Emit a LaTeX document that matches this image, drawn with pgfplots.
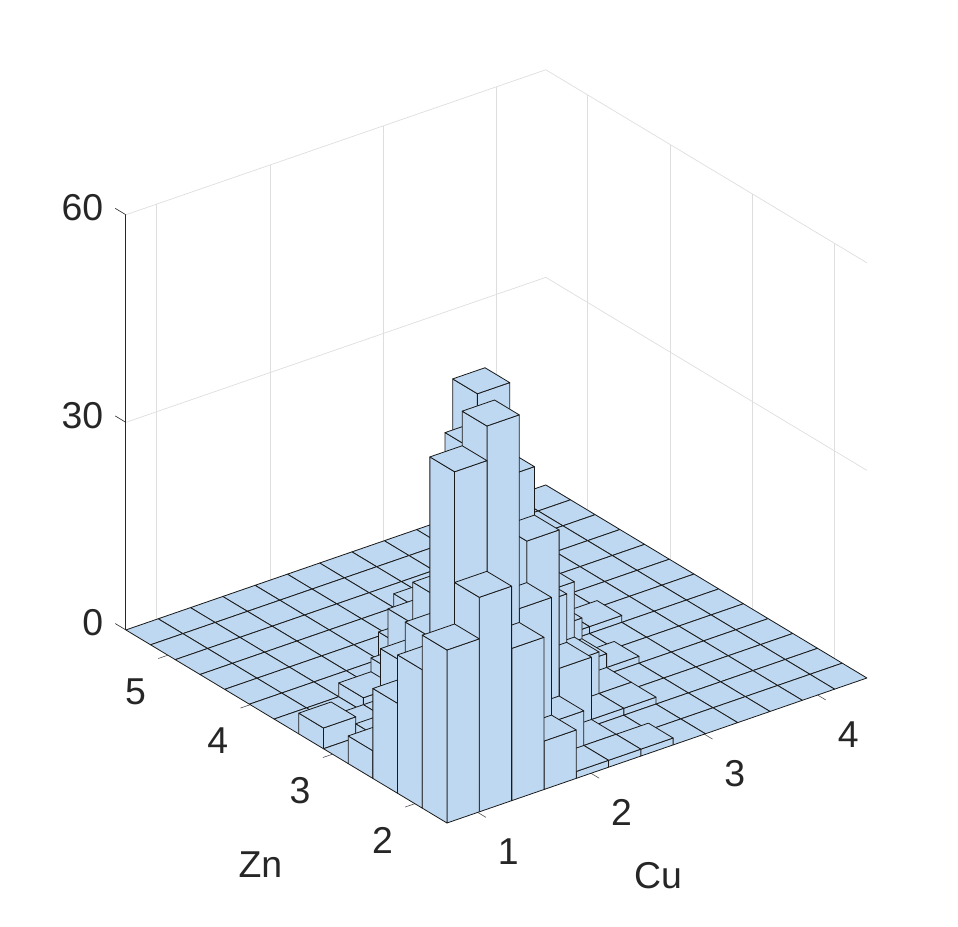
\documentclass[border=0pt]{standalone}
\usepackage{fontspec}
\setmainfont{Liberation Sans}
\usepackage{pgfplots}
\usepackage{pgfplotstable}
\pgfplotsset{compat=1.18}
\definecolor{barfill}{HTML}{BED8F1}
\definecolor{baredge}{HTML}{1A1A1A}
\definecolor{labelc}{HTML}{262626}
\definecolor{gridc}{HTML}{DEDEDE}

% counts per bin: rows are Zn bins, columns are Cu bins
\pgfplotstableread{
c1 c2 c3 c4 c5 c6 c7 c8 c9 c10 c11 c12 c13
25 31 22 7 1 1 1 0 0 0 0 0 0
20 47 52 24 6 1 0 0 0 0 0 0 0
13 21 40 22 30 10 1 1 0 0 0 0 0
4 15 23 43 37 17 7 1 0 0 0 0 0
0 2 17 15 47 22 15 3 1 0 0 0 0
3 1 1 4 15 15 10 6 0 0 0 0 0
0 0 2 4 5 6 6 3 1 1 0 0 0
0 0 0 0 4 3 3 2 0 0 0 0 0
0 0 0 0 0 0 1 0 0 0 0 0 0
0 0 0 0 0 0 2 0 0 0 0 0 0
0 0 0 0 0 0 0 0 0 0 0 0 0
0 0 0 0 0 0 0 0 0 0 0 0 0
0 0 0 0 0 0 0 0 0 0 0 0 0
}\binH

\def\cuzero{0.729}
\def\cubin{0.2851}
\def\znzero{1.61}
\def\znbin{0.3}

\begin{document}
\begin{tikzpicture}
\begin{axis}[
    x={(56.65pt,19.56pt)},
    y={(-41.17pt,24.75pt)},
    z={(0pt,3.46pt)},
    xmin=0.729, xmax=4.4353,
    ymin=1.61, ymax=5.51,
    zmin=0, zmax=60,
    xtick={1,2,3,4},
    ytick={2,3,4,5},
    ztick={0,30,60},
    clip=false,
    grid=major,
    grid style={gridc,line width=0.35pt},
    axis line style={draw=none},
    tick align=outside,
    major tick length=5pt,
    tick style={draw=none},
    /pgf/number format/assume math mode=true,
    ticklabel style={font=\fontsize{18.7}{20}\selectfont,text=labelc},
    xticklabel style={anchor=center,xshift=11pt,yshift=-17pt},
    yticklabel style={anchor=center,xshift=-11.5pt,yshift=-16.5pt},
    zticklabel style={anchor=east,xshift=-3.5pt,yshift=1pt},
    xlabel={Cu},
    ylabel={Zn},
    label style={font=\fontsize{18.7}{20}\selectfont,text=labelc},
    xlabel style={at={(rel axis cs:0.5,0,0)},anchor=center,xshift=0.5pt,yshift=-62.75pt},
    ylabel style={at={(rel axis cs:0,0.5,0)},anchor=center,rotate=0,xshift=-13pt,yshift=-69pt},
]
\coordinate (front) at (axis cs:0.729,1.61,0);
% z axis and tick marks
\addplot3[draw=labelc,line width=0.4pt,forget plot] coordinates {(0.729,5.51,0) (0.729,5.51,60)};
\pgfplotsinvokeforeach{0,30,60}{
  \addplot3[draw=labelc,line width=0.3pt,forget plot] coordinates {(0.729,5.51,#1) (0.729,5.64,#1)};
}
\pgfplotsinvokeforeach{1,2,3,4}{
  \addplot3[draw=labelc!80,line width=0.3pt,forget plot] coordinates {(#1,1.61,0) (#1,1.51,0)};
}
\pgfplotsinvokeforeach{2,3,4,5}{
  \addplot3[draw=labelc!80,line width=0.3pt,forget plot] coordinates {(0.729,#1,0) (0.644,#1,0)};
}
\pgfplotsforeachungrouped \jj in {12,11,...,0}{
  \pgfplotsforeachungrouped \ii in {12,11,...,0}{
    \pgfplotstablegetelem{\jj}{[index]\ii}\of\binH
    \let\hh\pgfplotsretval
    \pgfmathsetmacro\xa{\cuzero+\ii*\cubin}
    \pgfmathsetmacro\xb{\cuzero+(\ii+1)*\cubin}
    \pgfmathsetmacro\ya{\znzero+\jj*\znbin}
    \pgfmathsetmacro\yb{\znzero+(\jj+1)*\znbin}
    \ifdim\hh pt>0pt
      \edef\temp{\noexpand\addplot3[fill=barfill,draw=baredge,line width=0.4pt,line join=round,forget plot] coordinates {(\xa,\ya,0) (\xb,\ya,0) (\xb,\ya,\hh) (\xa,\ya,\hh) (\xa,\ya,0)};}\temp
      \edef\temp{\noexpand\addplot3[fill=barfill,draw=baredge,line width=0.4pt,line join=round,forget plot] coordinates {(\xa,\ya,0) (\xa,\yb,0) (\xa,\yb,\hh) (\xa,\ya,\hh) (\xa,\ya,0)};}\temp
    \fi
    \edef\temp{\noexpand\addplot3[fill=barfill,draw=baredge,line width=0.4pt,line join=round,forget plot] coordinates {(\xa,\ya,\hh) (\xb,\ya,\hh) (\xb,\yb,\hh) (\xa,\yb,\hh) (\xa,\ya,\hh)};}\temp
  }
}
\end{axis}
\path[use as bounding box] ([shift={(-223.5pt,-51.5pt)}]front) rectangle ++(479pt,463pt);
\end{tikzpicture}
\end{document}
